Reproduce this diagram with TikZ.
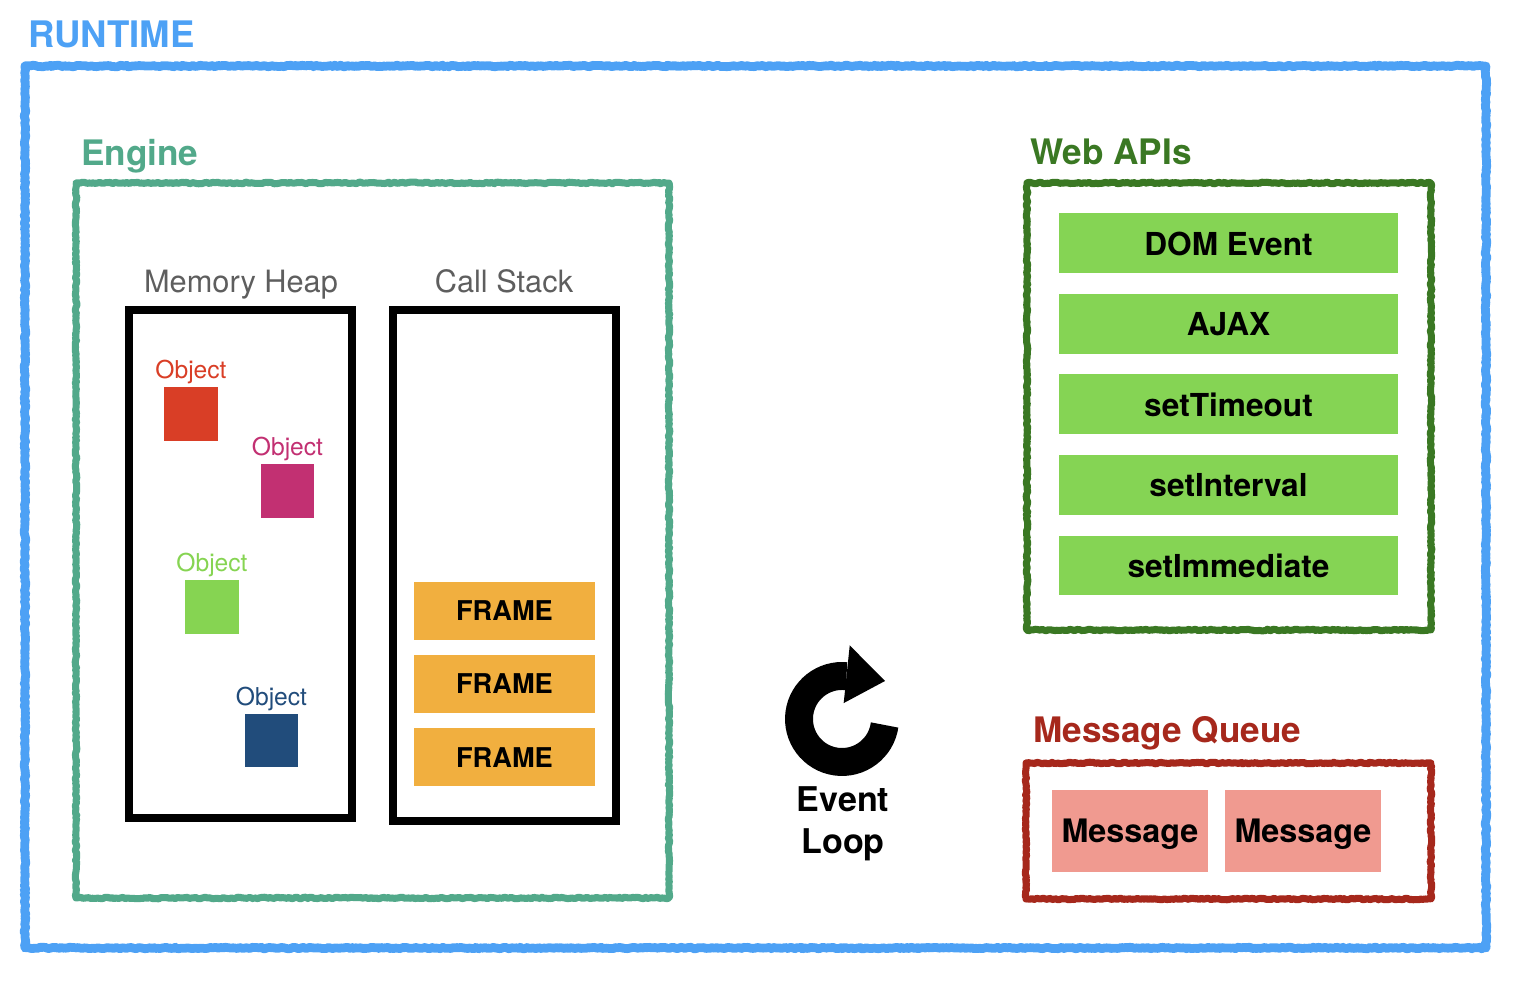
\documentclass[tikz,border=0pt]{standalone}
\usepackage{fontspec}
\setmainfont{TeX Gyre Heros}
\usepackage{xcolor}
\usetikzlibrary{positioning,calc,decorations.pathmorphing,arrows.meta}

\definecolor{runtimeblue}{HTML}{4DA1F5}
\definecolor{enginegreen}{HTML}{52A98A}
\definecolor{webgreen}{HTML}{3A7823}
\definecolor{queuered}{HTML}{A6281C}
\definecolor{apigreen}{HTML}{85D454}
\definecolor{frameorange}{HTML}{F1AF3F}
\definecolor{msgpink}{HTML}{F09A90}
\definecolor{objred}{HTML}{D93E26}
\definecolor{objpink}{HTML}{C23072}
\definecolor{objgreen}{HTML}{86D452}
\definecolor{objblue}{HTML}{214C7B}
\definecolor{labelgray}{HTML}{5E5E5E}

\tikzset{
  sketch/.style={line join=round, decorate, decoration={random steps, segment length=1.2pt, amplitude=0.45pt}},
  title/.style={font=\bfseries\fontsize{20}{24}\selectfont, anchor=base west, inner sep=0pt},
  heading/.style={font=\fontsize{17.5}{21}\selectfont, text=labelgray, anchor=base, inner sep=0pt},
  objlabel/.style={font=\fontsize{14}{17}\selectfont, anchor=base, inner sep=0pt},
  obj/.style={minimum size=1.08cm, inner sep=0pt},
  apibox/.style={fill=apigreen, minimum width=6.78cm, minimum height=1.2cm, inner sep=0pt, font=\bfseries\fontsize{18}{22}\selectfont, text depth=0pt},
  framebox/.style={fill=frameorange, minimum width=3.62cm, minimum height=1.16cm, inner sep=0pt, font=\bfseries\fontsize{15.5}{19}\selectfont, text depth=0pt},
  msgbox/.style={fill=msgpink, minimum width=3.12cm, minimum height=1.64cm, inner sep=0pt, font=\bfseries\fontsize{18.4}{22}\selectfont, text depth=0pt},
}

\begin{document}
\begin{tikzpicture}[x=0.02cm, y=-0.02cm]
    \useasboundingbox (0,0) rectangle (1516,982);

    % Runtime frame
    \node[title, text=runtimeblue, font=\bfseries\fontsize{20.8}{24}\selectfont] (runtime) at (28,48) {RUNTIME};
    \draw[sketch, runtimeblue, line width=5pt] (25,66) rectangle (1486,948);

    % Engine
    \node[title, text=enginegreen] (engine) at (81,166) {Engine};
    \draw[sketch, enginegreen, line width=4pt] (76,183) rectangle (669,898);

    \node[heading] (heaplabel) at (241,293) {Memory Heap};
    \node[heading] (stacklabel) at (504,293) {Call Stack};
    \draw[line width=4.5pt] (129,310) rectangle (352,818);
    \draw[line width=4.5pt] (393,310) rectangle (616,821);

    % Heap objects
    \foreach \name/\col/\x/\y in {a/objred/191/414, b/objpink/287.5/491, c/objgreen/212/607, d/objblue/271.5/740.5} {
        \node[obj, fill=\col] (obj\name) at (\x,\y) {};
        \node[objlabel, text=\col] (lbl\name) at ([yshift=0.16cm]obj\name.north) {Object};
    }

    % Stack frames
    \foreach \i in {1,2,3}
        \node[framebox] (frame\i) at (504.5,537.5+73.2*\i) {FRAME};

    % Event loop
    \begin{scope}[shift={(842,719)}, y=0.02cm]
        \draw[line width=15.9pt] (-8:43) arc[start angle=-8, end angle=-276, radius=43];
        \fill (84:16) -- (84:74) -- (43,38) -- cycle;
    \end{scope}
    \node[font=\bfseries\fontsize{19.4}{24}\selectfont, align=center, anchor=north, inner sep=0pt] (looplabel) at (843,786) {Event\\Loop};

    % Web APIs
    \node[title, text=webgreen] (webapis) at (1030,165) {Web APIs};
    \draw[sketch, webgreen, line width=4pt] (1027,183) rectangle (1431,630);
    \foreach \txt [count=\i] in {DOM Event, AJAX, setTimeout, setInterval, setImmediate}
        \node[apibox] (api\i) at (1228.5,163+80.5*\i) {\txt};

    % Message queue
    \node[title, text=queuered] (queue) at (1033,743) {Message Queue};
    \draw[sketch, queuered, line width=4pt] (1026,763) rectangle (1431,899);
    \node[msgbox] (msg1) at (1130,831) {Message};
    \node[msgbox] (msg2) at (1303,831) {Message};
\end{tikzpicture}
\end{document}
